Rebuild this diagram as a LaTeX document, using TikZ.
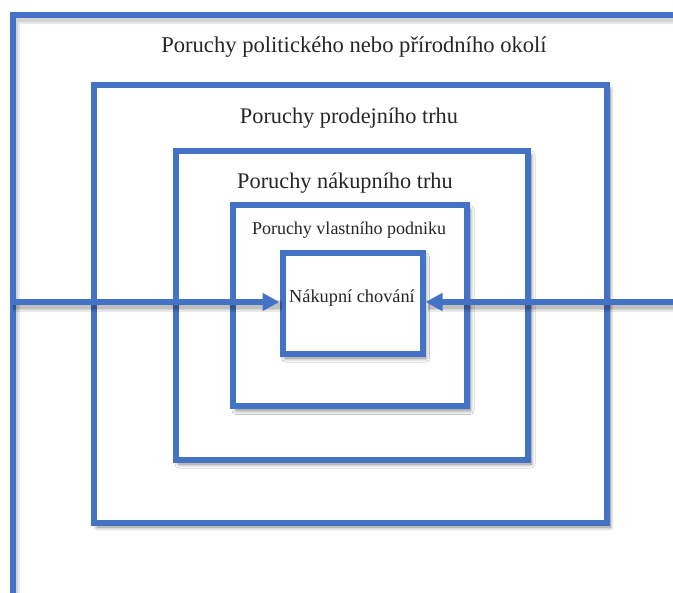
\documentclass[tikz,border=0pt]{standalone}
\usepackage{fontspec}
\setmainfont{Liberation Serif}
\usetikzlibrary{arrows.meta,shadows.blur}
\definecolor{frameblue}{HTML}{4472C4}
\tikzset{
  layerbox/.style={draw=frameblue, line width=6pt, fill=white, inner sep=0pt,
    blur shadow={shadow xshift=3pt, shadow yshift=-4pt, shadow opacity=50,
      shadow blur radius=4pt, shadow blur steps=12}},
  layertext/.style={inner sep=0pt, text=black!85, font=\fontsize{22.6}{26}\selectfont},
  midtext/.style={layertext, font=\fontsize{22.3}{26}\selectfont},
  smalltext/.style={layertext, font=\fontsize{18}{21}\selectfont},
  coretext/.style={layertext, font=\fontsize{18.3}{21}\selectfont},
  softline/.style={draw=black, draw opacity=0.09, line width=#1, -,
    transform canvas={shift={(2pt,-4pt)}}},
  flow/.style={draw=frameblue, line width=6pt,
    -{Triangle[length=17pt,width=17pt]},
    preaction={softline=12pt}, preaction={softline=9pt}, preaction={softline=6pt}},
  framepath/.style={draw=frameblue, line width=6pt,
    preaction={softline=10pt}, preaction={softline=6pt}}
}
\begin{document}
\begin{tikzpicture}[x=1pt,y=-1pt]
  \useasboundingbox (0,0) rectangle (673,593);
  % open frame of the surroundings, running off the page
  \coordinate (fbottom) at (13,600);
  \coordinate (fcorner) at (13,15);
  \coordinate (fright) at (680,15);
  \path[framepath] (fbottom) -- (fcorner) -- (fright);
  \node[layertext] (tenv) at (354,47) {Poruchy politického nebo přírodního okolí};

  % nested layers
  \node[layerbox, minimum width=513pt, minimum height=438pt] (sales) at (350.5,304) {};
  \node[midtext] (tsales) at (349,118) {Poruchy prodejního trhu};

  \node[layerbox, minimum width=352pt, minimum height=309pt] (purchase) at (352,305.5) {};
  \node[midtext] (tpurchase) at (345,183) {Poruchy nákupního trhu};

  \node[layerbox, minimum width=234pt, minimum height=201pt] (firm) at (350,306) {};
  \node[smalltext] (tfirm) at (349,230) {Poruchy vlastního podniku};

  \node[layerbox, minimum width=140pt, minimum height=101pt] (core) at (352.5,303.5) {};
  \node[coretext] (tcore) at (352,298) {Nákupní chování};

  % influences entering from both sides
  \coordinate (inleft) at (11,302);
  \coordinate (inright) at (680,302);
  \draw[flow] (inleft) -- (core.west |- inleft);
  \draw[flow] (inright) -- (core.east |- inright);
\end{tikzpicture}
\end{document}
